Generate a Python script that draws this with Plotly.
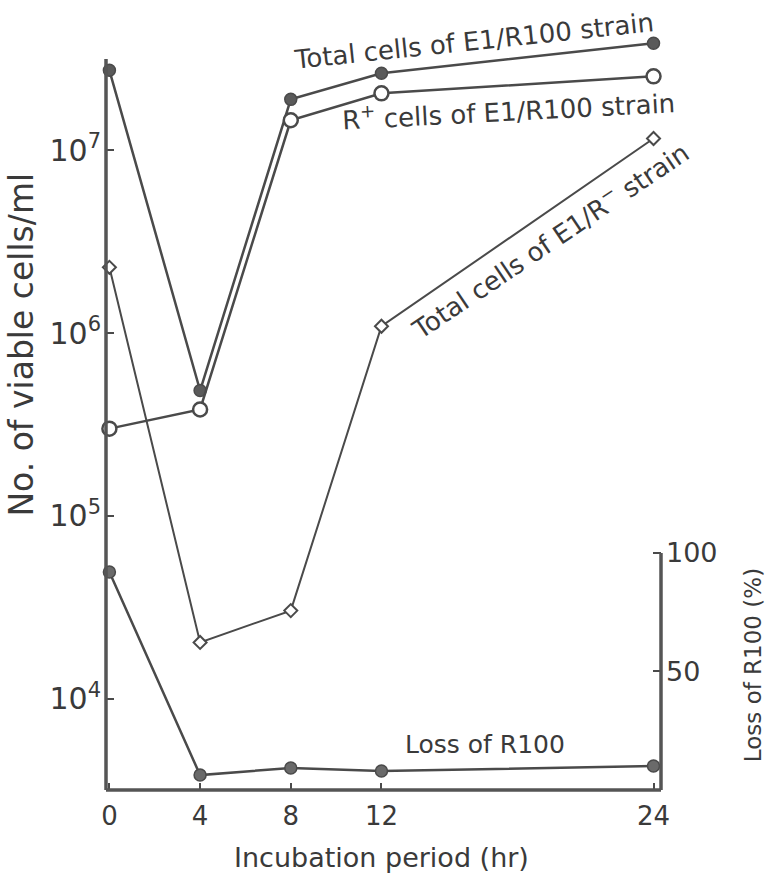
import plotly.graph_objects as go

# Data
hours = [0, 4, 8, 12, 24]
total_e1_r100 = [2.74e7, 4.85e5, 1.90e7, 2.64e7, 3.85e7]
rplus_e1_r100 = [3.0e5, 3.82e5, 1.46e7, 2.05e7, 2.54e7]
total_e1_rminus = [2.29e6, 2.03e4, 3.03e4, 1.09e6, 1.16e7]
loss_r100 = [92, 6.3, 9.3, 8.0, 10.1]

left_tickvals = [1e4, 1e5, 1e6, 1e7]
left_ticktext = ["10<sup>4</sup>", "10<sup>5</sup>", "10<sup>6</sup>", "10<sup>7</sup>"]
right_tickvals = [50, 100]
x_tickvals = [0, 4, 8, 12, 24]

INK = "#4a4a4a"
TXT = "#3a3a3a"
FONT = "DejaVu Sans"

fig = go.Figure()
fig.add_trace(go.Scatter(x=hours, y=total_e1_r100, mode="lines+markers",
                         line=dict(color=INK, width=2.5),
                         marker=dict(symbol="circle", size=12, color="#5a5a5a",
                                     line=dict(color=INK, width=1.5)),
                         cliponaxis=False, showlegend=False))
fig.add_trace(go.Scatter(x=hours, y=rplus_e1_r100, mode="lines+markers",
                         line=dict(color=INK, width=2.5),
                         marker=dict(symbol="circle", size=14, color="white",
                                     line=dict(color=INK, width=2.5)),
                         cliponaxis=False, showlegend=False))
fig.add_trace(go.Scatter(x=hours, y=total_e1_rminus, mode="lines+markers",
                         line=dict(color=INK, width=2),
                         marker=dict(symbol="diamond", size=10, color="white",
                                     line=dict(color=INK, width=2)),
                         cliponaxis=False, showlegend=False))
fig.add_trace(go.Scatter(x=hours, y=loss_r100, yaxis="y2", mode="lines+markers",
                         line=dict(color=INK, width=2.5),
                         marker=dict(symbol="circle", size=12, color="#6a6a6a",
                                     line=dict(color=INK, width=1.5)),
                         cliponaxis=False, showlegend=False))

Y2MAX = 317.7
fig.update_layout(
    width=767, height=875,
    margin=dict(l=106, r=106, t=37, b=85),
    paper_bgcolor="white", plot_bgcolor="white",
    font=dict(family=FONT, color=TXT),
    xaxis=dict(range=[-0.15, 24.33], tickvals=x_tickvals, ticks="inside",
               ticklen=7, tickwidth=2, tickcolor=INK, showgrid=False,
               zeroline=False, showline=False, ticklabelstandoff=8,
               tickfont=dict(size=26, family=FONT)),
    yaxis=dict(type="log", range=[3.5, 7.62], tickvals=left_tickvals,
               ticktext=left_ticktext, ticks="inside", ticklen=8,
               tickwidth=2, tickcolor=INK, showgrid=False, zeroline=False,
               showline=False, ticklabelstandoff=4,
               tickfont=dict(size=30, family=FONT)),
    yaxis2=dict(overlaying="y", side="right", range=[0, Y2MAX],
                tickvals=right_tickvals, ticks="inside", ticklen=8,
                tickwidth=2, tickcolor=INK, showgrid=False, zeroline=False,
                showline=False, ticklabelstandoff=4,
                tickfont=dict(size=27, family=FONT)),
)

axis_line = dict(color="#555555", width=3.5)
top_frac = (7.5 - 3.5) / (7.62 - 3.5)
right_frac = 100 / Y2MAX
fig.add_shape(type="line", xref="paper", yref="paper", x0=0, x1=0, y0=0, y1=top_frac, line=axis_line)
fig.add_shape(type="line", xref="paper", yref="paper", x0=0, x1=1, y0=0, y1=0, line=axis_line)
fig.add_shape(type="line", xref="paper", yref="paper", x0=1, x1=1, y0=0, y1=right_frac, line=axis_line)

ann_font = dict(family=FONT, size=26, color=TXT)
common = dict(showarrow=False, xanchor="center", yanchor="middle")
fig.add_annotation(x=16.1, y=7.6, xref="x", yref="y", text="Total cells of E1/R100 strain",
                   textangle=-6, font=ann_font, **common)
fig.add_annotation(x=17.6, y=7.22, xref="x", yref="y", text="R<sup>+</sup> cells of E1/R100 strain",
                   textangle=-3, font=ann_font, **common)
fig.add_annotation(x=19.4, y=6.508, xref="x", yref="y", text="Total cells of E1/R<sup>−</sup> strain",
                   textangle=-34, font=dict(family=FONT, size=26, color=TXT), **common)
fig.add_annotation(x=16.57, y=19.0, xref="x", yref="y2", text="Loss of R100",
                   font=dict(family=FONT, size=25, color=TXT), **common)

fig.add_annotation(x=-0.152, y=0.591, xref="paper", yref="paper", text="No. of viable cells/ml",
                   textangle=-90, font=dict(family=FONT, size=33, color=TXT), **common)
fig.add_annotation(x=1.166, y=0.166, xref="paper", yref="paper", text="Loss of R100 (%)",
                   textangle=-90, font=dict(family=FONT, size=23, color=TXT), **common)
fig.add_annotation(x=12, y=-0.089, xref="x", yref="paper", text="Incubation period (hr)",
                   font=dict(family=FONT, size=27, color=TXT), **common)

fig.write_html("out.html", config={"displayModeBar": False},
               post_script="document.body.style.margin='0';")
